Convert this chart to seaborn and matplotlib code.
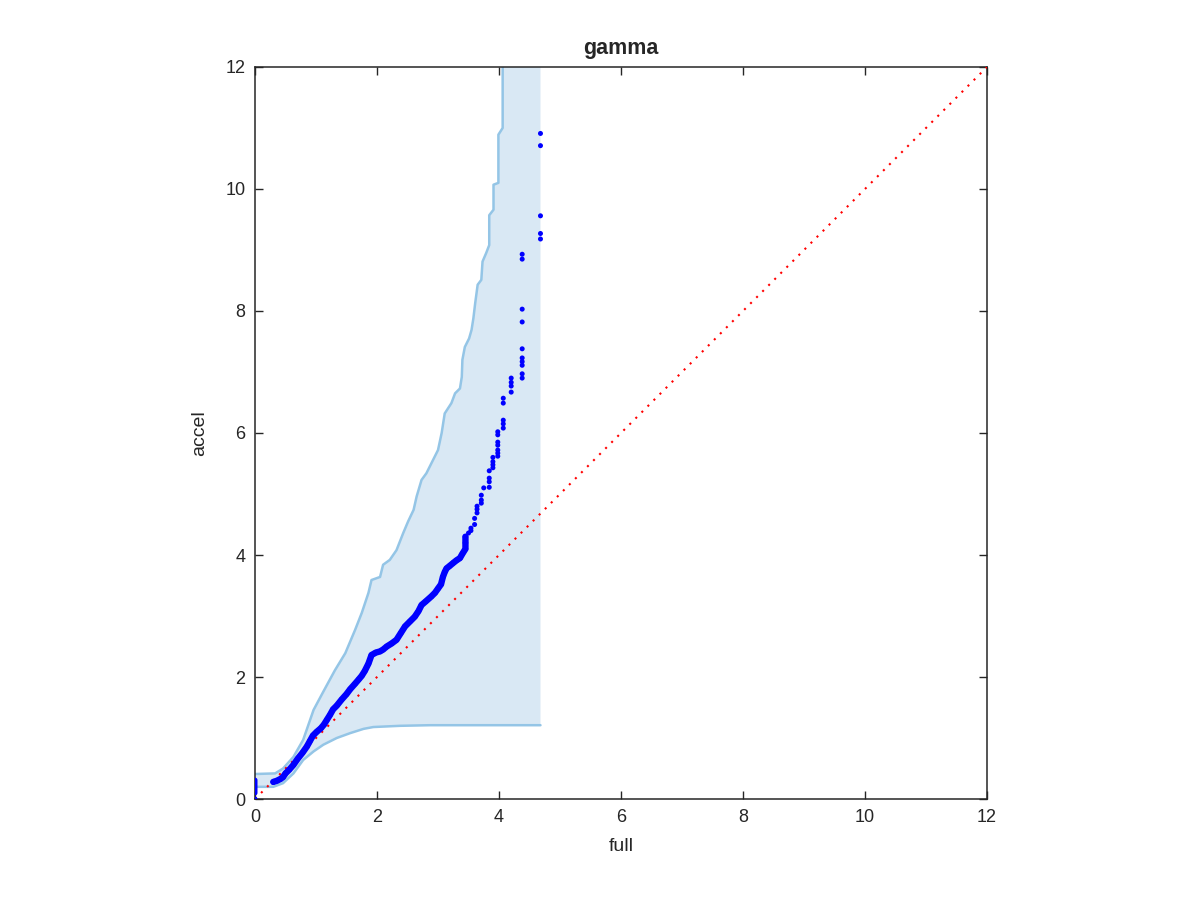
import matplotlib
matplotlib.use("Agg")
import matplotlib.pyplot as plt
import seaborn as sns
import pandas as pd

# --- data (quantiles: full vs accel) ---
# dense part of the q-q cloud
dense_x = [0.30, 0.36, 0.42, 0.46, 0.50, 0.56, 0.63, 0.70, 0.78, 0.85, 0.90, 0.95,
           1.01, 1.08, 1.13, 1.18, 1.23, 1.28, 1.34, 1.42, 1.50, 1.56, 1.64, 1.70,
           1.75, 1.80, 1.86, 1.91, 1.98, 2.05, 2.10, 2.16, 2.24, 2.32, 2.39, 2.46,
           2.54, 2.62, 2.68, 2.73, 2.80, 2.89, 2.95, 3.00, 3.05, 3.08, 3.11, 3.14,
           3.19, 3.25, 3.30, 3.36, 3.40, 3.45, 3.45, 3.45]
dense_y = [0.28, 0.30, 0.33, 0.36, 0.42, 0.48, 0.56, 0.66, 0.76, 0.86, 0.95, 1.04,
           1.10, 1.16, 1.22, 1.30, 1.38, 1.47, 1.53, 1.63, 1.72, 1.80, 1.89, 1.96,
           2.02, 2.10, 2.22, 2.36, 2.40, 2.42, 2.45, 2.50, 2.55, 2.61, 2.72, 2.83,
           2.91, 2.99, 3.08, 3.18, 3.24, 3.32, 3.38, 3.45, 3.52, 3.64, 3.72, 3.78,
           3.82, 3.87, 3.91, 3.95, 4.02, 4.10, 4.20, 4.30]

# sparse upper tail and the zeros at x = 0
tail_x = [0, 0, 0, 0, 0, 0, 0, 0, 0,
          3.50, 3.54, 3.54, 3.60, 3.60, 3.64, 3.64, 3.64, 3.71, 3.71, 3.71, 3.75,
          3.84, 3.84, 3.84, 3.84, 3.90, 3.90, 3.90, 3.90,
          3.98, 3.98, 3.98, 3.98, 3.98, 3.98, 3.98,
          4.07, 4.07, 4.07, 4.07, 4.07, 4.20, 4.20, 4.20, 4.20,
          4.38, 4.38, 4.38, 4.38, 4.38, 4.38, 4.38, 4.38, 4.38, 4.38,
          4.68, 4.68, 4.68, 4.68, 4.68]
tail_y = [0.00, 0.10, 0.13, 0.16, 0.19, 0.22, 0.25, 0.28, 0.31,
          4.36, 4.40, 4.44, 4.50, 4.60, 4.69, 4.75, 4.80, 4.85, 4.90, 4.98, 5.10,
          5.11, 5.20, 5.26, 5.38, 5.43, 5.48, 5.53, 5.60,
          5.62, 5.67, 5.72, 5.80, 5.85, 5.97, 6.02,
          6.08, 6.15, 6.21, 6.49, 6.57, 6.67, 6.77, 6.83, 6.90,
          6.90, 6.97, 7.11, 7.17, 7.23, 7.38, 7.82, 8.03, 8.85, 8.93,
          9.18, 9.27, 9.56, 10.71, 10.91]

# envelope (upper / lower bound), stepped
upper_x = [0, 0.33, 0.46, 0.63, 0.79, 0.96, 1.12, 1.31, 1.48, 1.64, 1.75, 1.86,
           1.91, 2.05, 2.10, 2.21, 2.32, 2.43, 2.51, 2.60, 2.65, 2.73, 2.81, 2.92,
           3.00, 3.06, 3.11, 3.22, 3.28, 3.36, 3.39, 3.40, 3.44, 3.51, 3.55, 3.58,
           3.61, 3.65, 3.71, 3.73, 3.79, 3.84, 3.84, 3.91, 3.91, 3.99, 3.99, 4.06,
           4.06, 4.68]
upper_y = [0.41, 0.42, 0.50, 0.69, 0.97, 1.46, 1.76, 2.11, 2.39, 2.77, 3.05, 3.38,
           3.59, 3.64, 3.84, 3.92, 4.08, 4.36, 4.55, 4.74, 4.96, 5.23, 5.34, 5.56,
           5.72, 6.00, 6.32, 6.49, 6.65, 6.73, 6.92, 7.20, 7.41, 7.55, 7.69, 7.88,
           8.13, 8.43, 8.51, 8.81, 8.95, 9.08, 9.57, 9.66, 10.07, 10.10, 10.89, 11.00,
           14.0, 14.0]
lower_x = [0, 0.30, 0.46, 0.63, 0.79, 0.96, 1.12, 1.34, 1.56, 1.78, 1.94, 2.38,
           2.87, 3.03, 4.68]
lower_y = [0.20, 0.20, 0.26, 0.42, 0.64, 0.78, 0.89, 1.00, 1.08, 1.15, 1.18, 1.20,
           1.21, 1.21, 1.21]

ref_line = [0, 12]

sns.set_style("ticks")
plt.rcParams['font.family'] = ['Liberation Sans', 'DejaVu Sans']

fig = plt.figure(figsize=(12, 9), dpi=100)
ax = fig.add_axes([0.2125, 0.1122, 0.61, 0.8134])

band_fill = "#d9e8f4"
band_edge = "#94c5e6"
text_col = "#262626"

# shaded envelope
ax.fill(upper_x + lower_x[::-1], upper_y + lower_y[::-1],
        color=band_fill, lw=0, zorder=1)
band = pd.DataFrame({"x": upper_x, "y": upper_y})
sns.lineplot(data=band, x="x", y="y", sort=False, estimator=None,
             color=band_edge, lw=1.8, ax=ax, zorder=2)
band = pd.DataFrame({"x": lower_x, "y": lower_y})
sns.lineplot(data=band, x="x", y="y", sort=False, estimator=None,
             color=band_edge, lw=1.8, ax=ax, zorder=2)

# reference y = x
sns.lineplot(x=ref_line, y=ref_line, color="red", lw=1.5,
             linestyle=(0, (1, 3.1)), ax=ax, zorder=3)

# q-q points (the dense run is drawn as a thick trace plus markers)
dense = pd.DataFrame({"x": dense_x, "y": dense_y})
sns.lineplot(data=dense, x="x", y="y", sort=False, estimator=None,
             color="#0000ff", lw=4.6, ax=ax, zorder=4)
sns.scatterplot(data=dense, x="x", y="y", color="#0000ff", s=16,
                edgecolor="none", ax=ax, zorder=5)
sns.scatterplot(x=tail_x, y=tail_y, color="#0000ff", s=13,
                edgecolor="none", ax=ax, zorder=5)

ax.set_xlim(0, 12)
ax.set_ylim(0, 12)
ax.set_xticks(range(0, 13, 2))
ax.set_yticks(range(0, 13, 2))
ax.tick_params(direction="in", top=True, right=True, length=6, width=1,
               labelsize=13, color=text_col, labelcolor=text_col, pad=7)
for sp in ax.spines.values():
    sp.set_visible(True)
    sp.set_color(text_col)
    sp.set_linewidth(1.1)

ax.set_xlabel("full", fontsize=14, color=text_col, labelpad=9)
ax.set_ylabel("accel", fontsize=14, color=text_col, labelpad=12)
ax.set_title("gamma", fontsize=15.5, fontweight="bold", pad=9)

fig.savefig("out.png", dpi=100)
